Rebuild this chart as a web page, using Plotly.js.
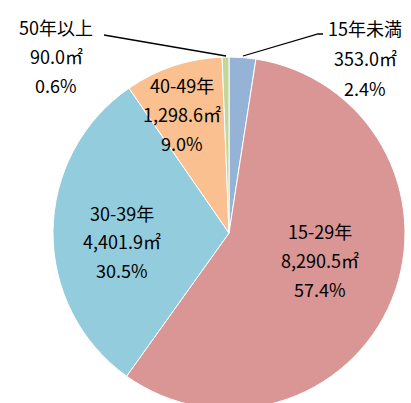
<!DOCTYPE html>
<html>
<head>
<meta charset="utf-8">
<script src="https://cdn.plot.ly/plotly-3.0.1.min.js"></script>
<style>
html,body{margin:0;padding:0;overflow:hidden;background:#fff;width:411px;height:403px;}
#chart{width:411px;height:420px;}
</style>
</head>
<body>
<div id="chart"></div>
<script>
// Data
const categories = ["15年未満", "15-29年", "30-39年", "40-49年", "50年以上"];
const areas = [353.0, 8290.5, 4401.9, 1298.6, 90.0];
const percents = ["2.4%", "57.4%", "30.5%", "9.0%", "0.6%"];
const areaLabels = ["353.0㎡", "8,290.5㎡", "4,401.9㎡", "1,298.6㎡", "90.0㎡"];
const colors = ["#95B3D7", "#D99694", "#93CDDD", "#FAC090", "#C3D69B"];

const W = 411, H = 420;
const px = x => x / W;
const py = y => (H - y) / H;

// label placement (pixel centers of each label block, first line) and line spacing
const labelPos = [
  {x: 365, y: 28, dy: 30},
  {x: 320, y: 231, dy: 29},
  {x: 122, y: 213, dy: 28.5},
  {x: 182, y: 85, dy: 29},
  {x: 56, y: 27, dy: 29}
];

const font = {family: "'Noto Sans CJK JP', 'Noto Sans', sans-serif", size: 18, color: "#000"};
const annotations = [];
categories.forEach((c, i) => {
  const lines = [c, areaLabels[i], percents[i]];
  lines.forEach((t, k) => {
    annotations.push({
      xref: "paper", yref: "paper",
      x: px(labelPos[i].x), y: py(labelPos[i].y + k * labelPos[i].dy),
      xanchor: "center", yanchor: "middle",
      text: t, showarrow: false, font: font
    });
  });
});

const shapes = [
  {type: "path", xref: "paper", yref: "paper",
   path: `M ${px(104)} ${py(35)} L ${px(226)} ${py(56)}`,
   line: {color: "#000", width: 1.3}},
  {type: "path", xref: "paper", yref: "paper",
   path: `M ${px(243)} ${py(56)} L ${px(318)} ${py(34)} L ${px(323)} ${py(34)}`,
   line: {color: "#000", width: 1.3}}
];

const trace = {
  type: "pie",
  labels: categories,
  values: areas,
  sort: false,
  direction: "clockwise",
  rotation: 0,
  textinfo: "none",
  hoverinfo: "label+value+percent",
  marker: {colors: colors, line: {color: "#ffffff", width: 1}},
  domain: {x: [53 / W, 405 / W], y: [11 / H, 363 / H]},
  showlegend: false
};

const layout = {
  width: W, height: H,
  margin: {l: 0, r: 0, t: 0, b: 0},
  paper_bgcolor: "#fff",
  showlegend: false,
  annotations: annotations,
  shapes: shapes
};

Plotly.newPlot("chart", [trace], layout, {displayModeBar: false, staticPlot: true});
</script>
</body>
</html>
